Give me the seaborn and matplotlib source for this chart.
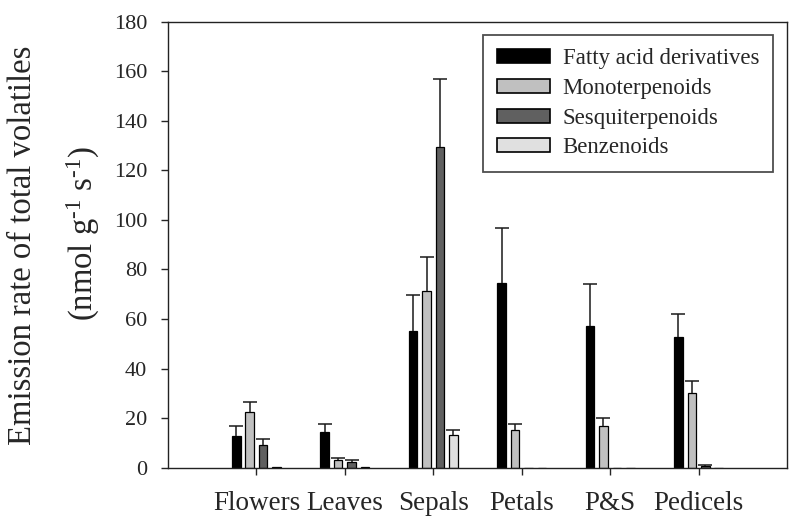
import numpy as np
import pandas as pd
import matplotlib
matplotlib.use("Agg")
import matplotlib.pyplot as plt
import seaborn as sns

organs = ["Flowers", "Leaves", "Sepals", "Petals", "P&S", "Pedicels"]
classes = ["Fatty acid derivatives", "Monoterpenoids", "Sesquiterpenoids", "Benzenoids"]

fatty = [12.9, 14.4, 55.2, 74.4, 57.2, 52.6]
fatty_err = [3.9, 3.1, 14.5, 22.5, 17.1, 9.5]
mono = [22.3, 3.1, 71.4, 15.1, 16.9, 30.3]
mono_err = [4.2, 0.7, 13.6, 2.5, 3.3, 4.7]
sesq = [9.2, 2.2, 129.3, 0.0, 0.0, 0.8]
sesq_err = [2.4, 0.8, 27.4, 0.0, 0.0, 0.4]
benz = [0.4, 0.2, 13.1, 0.0, 0.0, 0.0]
benz_err = [0.0, 0.0, 2.2, 0.0, 0.0, 0.0]

colors = ["#000000", "#c0c0c0", "#606060", "#e0e0e0"]

values = [fatty, mono, sesq, benz]
errors = [fatty_err, mono_err, sesq_err, benz_err]
rows = []
for c, vals, errs in zip(classes, values, errors):
    for o, v, e in zip(organs, vals, errs):
        rows.append({"organ": o, "class": c, "value": v, "err": e})
df = pd.DataFrame(rows)

sns.set_style("ticks")
plt.rcParams["font.family"] = ["Liberation Serif", "DejaVu Serif"]
plt.rcParams["mathtext.fontset"] = "custom"
plt.rcParams["mathtext.rm"] = "Liberation Serif"
plt.rcParams["mathtext.it"] = "Liberation Serif:italic"

fig = plt.figure(figsize=(8, 5.32), dpi=100)
ax = fig.add_axes([0.21, 0.1209, 0.77375, 0.8383])

sns.barplot(data=df, x="organ", y="value", hue="class", order=organs,
            hue_order=classes, palette=colors, width=0.608, gap=0.37,
            edgecolor="black", linewidth=0.9, errorbar=None, ax=ax,
            saturation=1)

# error bars (upper only), placed from the bar patches
for ci, c in enumerate(classes):
    for oi, o in enumerate(organs):
        p = ax.containers[ci][oi]
        e = errors[ci][oi]
        v = values[ci][oi]
        if e > 0:
            xc = p.get_x() + p.get_width() / 2
            _, caps, _ = ax.errorbar([xc], [v], yerr=[[0], [e]], fmt="none",
                                     ecolor="#1a1a1a", elinewidth=1.1,
                                     capsize=4.7, capthick=1.1)
            # hide the lower cap so only the upper whisker shows
            if len(caps) >= 2:
                caps[0].set_visible(False)

ax.set_xlim(-1.0, 6.0)
ax.set_ylim(0, 180)
ax.set_yticks(np.arange(0, 181, 20))
ax.set_xlabel("")
ax.set_ylabel("")

for s in ax.spines.values():
    s.set_visible(True)
    s.set_linewidth(1.0)
    s.set_color("#222222")

ax.tick_params(axis="y", direction="out", length=5, width=1.0,
               labelsize=16, pad=10)
ax.tick_params(axis="x", direction="out", length=5, width=1.0,
               labelsize=19.5, pad=12)

fig.text(23 / 800, 1 - 245 / 532, "Emission rate of total volatiles",
         rotation=90, ha="center", va="center", fontsize=23.5)
fig.text(83 / 800, 1 - 234 / 532, r"(nmol g$^{\text{-1}}$ s$^{\text{-1}}$)",
         rotation=90, ha="center", va="center", fontsize=23.5)

leg = ax.legend(loc="upper right", bbox_to_anchor=(0.977, 0.971),
                borderaxespad=0, fontsize=16.4, frameon=True, fancybox=False,
                handlelength=2.33, handleheight=0.57, handletextpad=0.57,
                labelspacing=0.38, borderpad=0.6, title=None)
leg.get_frame().set_edgecolor("#222222")
leg.get_frame().set_linewidth(1.3)
for h in leg.legend_handles:
    h.set_edgecolor("black")
    h.set_linewidth(1.2)

fig.savefig("out.png", dpi=100)
